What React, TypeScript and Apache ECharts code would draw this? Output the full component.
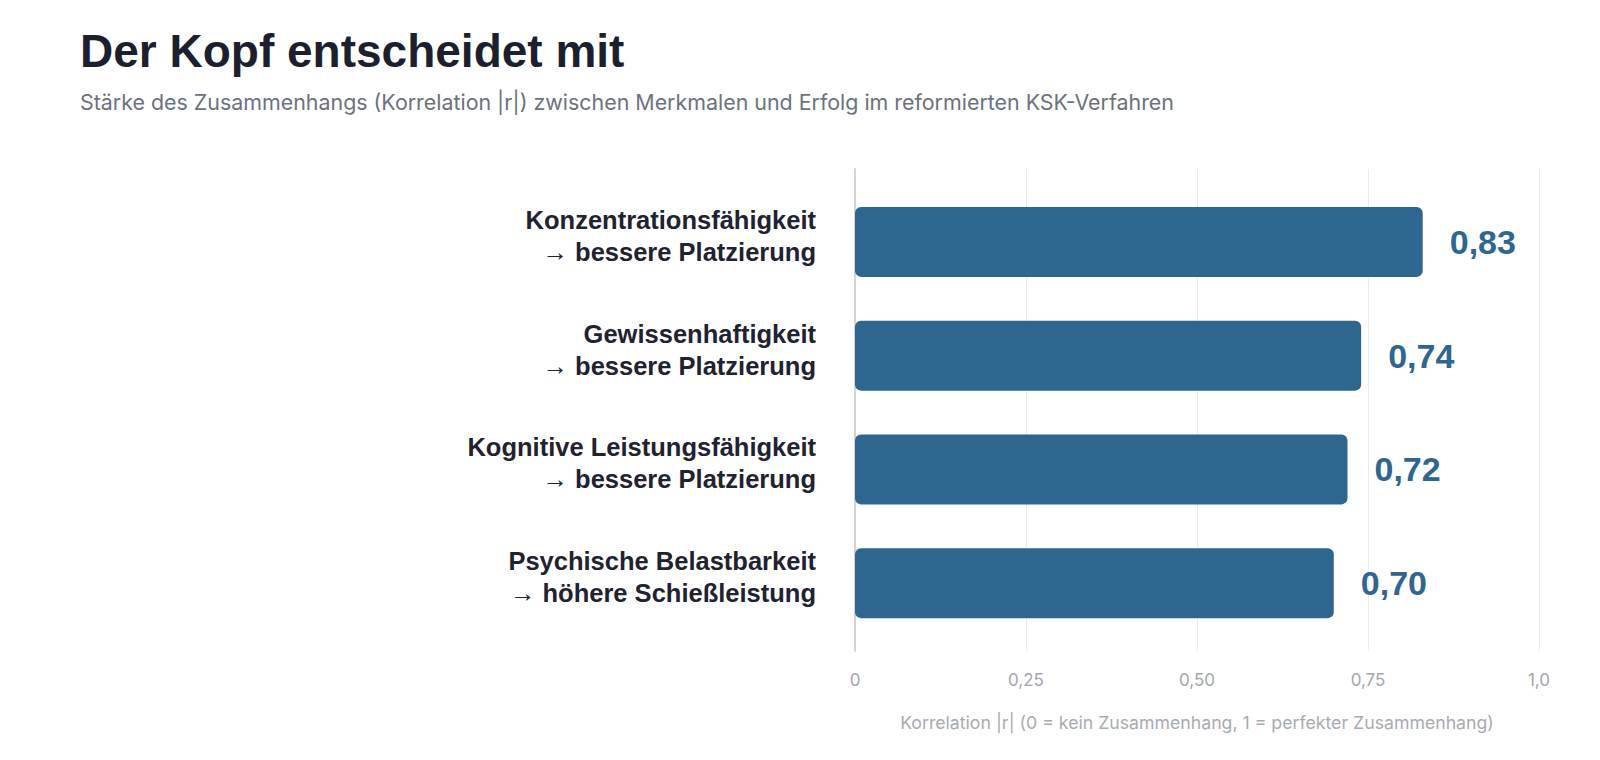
import React, { useEffect, useRef } from "react";
import * as echarts from "echarts";

const categories = [
  "Konzentrationsfähigkeit\n→ bessere Platzierung",
  "Gewissenhaftigkeit\n→ bessere Platzierung",
  "Kognitive Leistungsfähigkeit\n→ bessere Platzierung",
  "Psychische Belastbarkeit\n→ höhere Schießleistung",
];
const values = [0.83, 0.74, 0.72, 0.7];
const xTickLabels = ["0", "0,25", "0,50", "0,75", "1,0"];

const FONT = 'Helvetica, "Liberation Sans", Arial, sans-serif';
const FONT_REG = 'Inter, Helvetica, "Liberation Sans", Arial, sans-serif';
const BAR = "#2f6690";

export default function App() {
  const ref = useRef<HTMLDivElement>(null);
  useEffect(() => {
    if (!ref.current) return;
    const chart = echarts.init(ref.current, null, { renderer: "svg" });
    const gridLeft = 855;
    const gridRight = 1600 - 1539;
    chart.setOption({
      animation: false,
      backgroundColor: "#ffffff",
      textStyle: { fontFamily: FONT },
      title: [
        {
          text: "Der Kopf entscheidet mit",
          left: 80,
          top: 28,
          padding: 0,
          textStyle: { fontFamily: FONT, fontSize: 46, fontWeight: "bold", color: "#1c1f2e", lineHeight: 46 },
        },
        {
          text: "Stärke des Zusammenhangs (Korrelation |r|) zwischen Merkmalen und Erfolg im reformierten KSK-Verfahren",
          left: 80,
          top: 91,
          padding: 0,
          textStyle: { fontFamily: FONT_REG, fontSize: 21.4, fontWeight: "normal", color: "#6b7280", lineHeight: 22 },
        },
      ],
      grid: [
        { left: gridLeft, right: gridRight, top: 169, bottom: 760 - 651 },
        { left: gridLeft, right: gridRight, top: 185, bottom: 760 - 640 },
      ],
      xAxis: [
        {
          gridIndex: 0,
          type: "value",
          min: 0,
          max: 1,
          interval: 0.25,
          axisLine: { show: false },
          axisTick: { show: false },
          splitLine: { show: true, lineStyle: { color: "#ebebeb", width: 1 } },
          axisLabel: {
            margin: 20,
            fontSize: 17,
            color: "#a3a6ad",
            fontFamily: FONT_REG,
            formatter: (v: number) => xTickLabels[Math.round(v / 0.25)] ?? "",
          },
          name: "Korrelation |r| (0 = kein Zusammenhang, 1 = perfekter Zusammenhang)",
          nameLocation: "middle",
          nameGap: 62,
          nameTextStyle: { fontSize: 17.7, color: "#a8abb2", fontFamily: FONT_REG },
        },
        {
          gridIndex: 1,
          type: "value",
          min: 0,
          max: 1,
          show: false,
        },
      ],
      yAxis: [
        {
          gridIndex: 0,
          type: "value",
          min: 0,
          max: 1,
          axisLine: { show: true, lineStyle: { color: "#d4d4d4", width: 2 } },
          axisTick: { show: false },
          axisLabel: { show: false },
          splitLine: { show: false },
        },
        {
          gridIndex: 1,
          type: "category",
          inverse: true,
          data: categories,
          axisLine: { show: false },
          axisTick: { show: false },
          splitLine: { show: false },
          axisLabel: {
            margin: 39,
            align: "right",
            formatter: (v: string) =>
              v.split("\n").map((s) => `{a|${s}}`).join("\n") + "\n{e| }",
            rich: {
              a: {
                fontSize: 25.5,
                lineHeight: 32,
                fontWeight: "bold",
                color: "#1f2230",
                fontFamily: FONT,
                align: "right",
              },
              e: { fontSize: 4, lineHeight: 12, align: "right" },
            },
          },
        },
      ],
      series: [
        {
          type: "bar",
          xAxisIndex: 1,
          yAxisIndex: 1,
          data: values,
          barWidth: 70,
          itemStyle: { color: BAR, borderRadius: 6 },
          label: {
            show: true,
            position: "right",
            distance: 27,
            fontSize: 34,
            fontWeight: "bold",
            color: BAR,
            fontFamily: FONT,
            formatter: (p: any) => Number(p.value).toFixed(2).replace(".", ","),
          },
        },
      ],
    });
    return () => chart.dispose();
  }, []);
  return (
    <div
      ref={ref}
      style={{ position: "fixed", left: 0, top: 0, width: 1600, height: 760 }}
    />
  );
}
